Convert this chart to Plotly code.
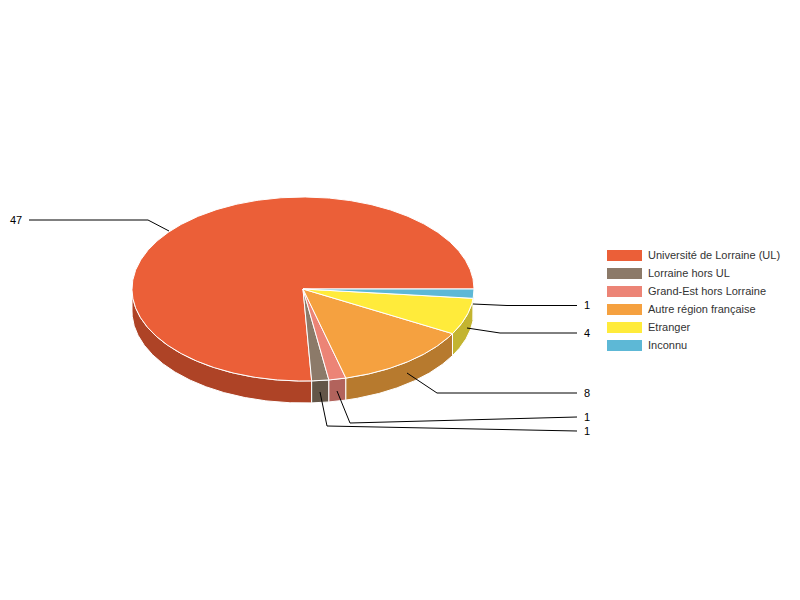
import numpy as np
import plotly.graph_objects as go

categories = ["Université de Lorraine (UL)", "Lorraine hors UL", "Grand-Est hors Lorraine",
              "Autre région française", "Etranger", "Inconnu"]
values = [47, 1, 1, 8, 4, 1]
top_colors = ["#EB5F38", "#8C7A69", "#EC8476", "#F5A140", "#FFEB3B", "#5DB8D6"]
side_colors = ["#AE4326", "#635648", "#B2635C", "#B77A2E", "#C3B430", "#4A93AB"]

# pie geometry, in pixels of the 800x600 page
cx, cy = 303, 289
rx, ry = 171, 92
depth = 22

# leader lines: slice end, elbow, label end
leader_x = [[169, 148, 29], [320, 327, 577], [337, 350, 577], [407, 437, 577], [467, 500, 577], [473, 507, 577]]
leader_y = [[231, 220, 220], [392, 426, 431], [391, 423, 417], [373, 393, 393], [328, 333, 333], [304, 305.5, 305.5]]


def arc(a0, a1):
    t = np.radians(np.linspace(a0, a1, max(int(abs(a1 - a0) * 2), 2) + 1))
    return cx + rx * np.cos(t), cy - ry * np.sin(t)


edges = np.concatenate([[0], np.cumsum(values)]) / sum(values) * 360

fig = go.Figure()

# side walls, only the front half of the pie shows them
for i in range(len(values)):
    a0, a1 = max(edges[i], 180), edges[i + 1]
    if a1 <= a0:
        continue
    x, y = arc(a0, a1)
    fig.add_trace(go.Scatter(
        x=np.concatenate([x, x[::-1], x[:1]]),
        y=np.concatenate([y, y[::-1] + depth, y[:1]]),
        mode="lines", fill="toself", fillcolor=side_colors[i],
        line=dict(color="white", width=1), hoverinfo="skip"))

# top faces
for i in range(len(values)):
    x, y = arc(edges[i], edges[i + 1])
    fig.add_trace(go.Scatter(
        x=np.concatenate([[cx], x, [cx]]),
        y=np.concatenate([[cy], y, [cy]]),
        mode="lines", fill="toself", fillcolor=top_colors[i],
        line=dict(color="white", width=1), hoverinfo="skip"))

# leaders and value labels
for i in range(len(values)):
    fig.add_trace(go.Scatter(x=leader_x[i], y=leader_y[i], mode="lines",
                             line=dict(color="black", width=1), hoverinfo="skip"))
    left = leader_x[i][2] < cx
    fig.add_annotation(x=leader_x[i][2] + (-5 if left else 5), y=leader_y[i][2] - 0.5 + (0.5 if i == 5 else 0) - (0.5 if i == 5 else 0),
                       text=str(values[i]),
                       showarrow=False, xanchor="right" if left else "left", yanchor="middle",
                       font=dict(color="black"))

# legend
shapes = []
for i in range(len(categories)):
    y = 255.5 + 18 * i
    shapes.append(dict(type="rect", x0=607, x1=642, y0=y - 5.5, y1=y + 5.5,
                       fillcolor=top_colors[i], line=dict(width=0), layer="above"))
    fig.add_annotation(x=646, y=y - 1, text=categories[i], showarrow=False,
                       xanchor="left", yanchor="middle", font=dict(color="#333333"))

fig.update_layout(
    width=800, height=600,
    margin=dict(l=0, r=0, t=0, b=0),
    showlegend=False,
    paper_bgcolor="white", plot_bgcolor="white",
    font=dict(family="Liberation Sans, Arial, sans-serif", size=11),
    shapes=shapes,
    xaxis=dict(range=[0, 800], visible=False),
    yaxis=dict(range=[600, 0], visible=False),
)
fig.write_html("out.html", post_script="document.body.style.margin='0';",
               config=dict(displayModeBar=False))
